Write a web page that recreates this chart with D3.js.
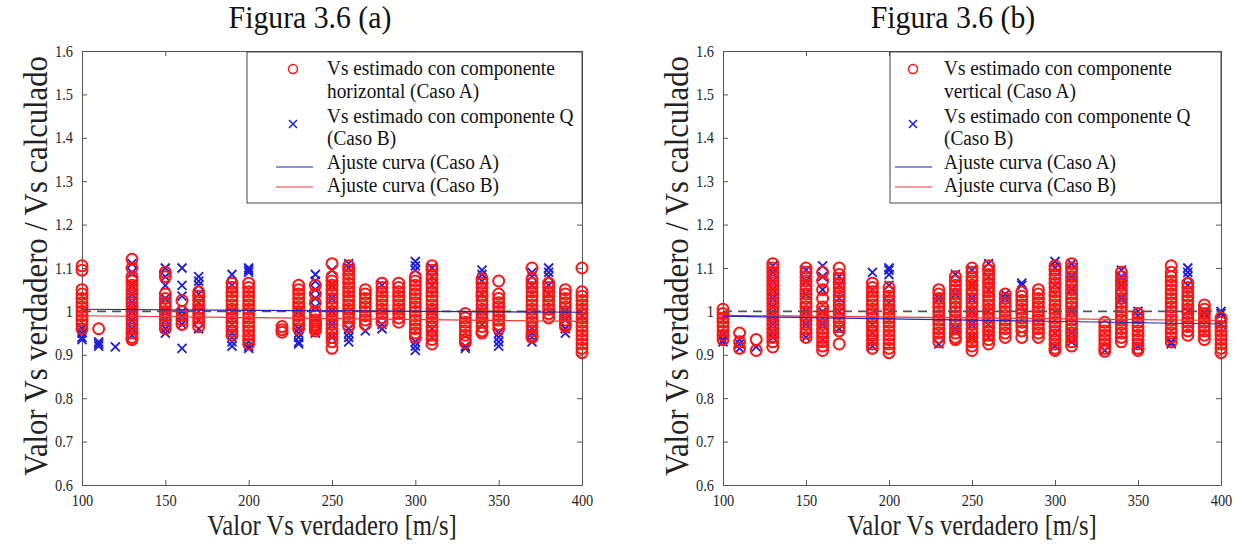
<!DOCTYPE html>
<html>
<head>
<meta charset="utf-8">
<script src="https://cdn.jsdelivr.net/npm/d3@7"></script>
<style>
  body { margin: 0; background: #fff; }
  svg text { font-family: "Liberation Serif", "Times New Roman", serif; }
  .axis path, .axis line { stroke: #555; }
  .axis text { fill: #262626; font-size: 16px; font-family: "Liberation Serif", serif; }
</style>
</head>
<body>
<svg width="1245" height="544"></svg>
<script>
var WIDTH = 1245;
var HEIGHT = 544;

var xTicks = [100, 150, 200, 250, 300, 350, 400];
var yTicks = [0.6, 0.7, 0.8, 0.9, 1.0, 1.1, 1.2, 1.3, 1.4, 1.5, 1.6];

// panel (a): red circles = Caso A, blue crosses = Caso B
var aCasoA = [
    [100, [1.105, 1.095, 1.05, 1.04, 1.03, 1.02, 1.01, 1.0, 0.99, 0.98, 0.97, 0.96]],
    [110, [0.96]],
    [130, [1.12, 1.10, 1.08, 1.07, 1.06, 1.05, 1.04, 1.03, 1.02, 1.01, 1.0, 0.99, 0.98, 0.97, 0.96, 0.95, 0.94, 0.935]],
    [150, [1.09, 1.08, 1.04, 1.03, 1.02, 1.01, 1.0, 0.99, 0.98, 0.97, 0.96]],
    [160, [1.025, 1.0, 0.99, 0.98, 0.97]],
    [170, [1.045, 1.035, 1.025, 1.015, 1.005, 0.995, 0.985, 0.975, 0.965]],
    [190, [1.065, 1.055, 1.045, 1.035, 1.025, 1.015, 1.005, 0.995, 0.985, 0.975, 0.965, 0.955, 0.945]],
    [200, [1.065, 1.055, 1.045, 1.035, 1.025, 1.015, 1.005, 0.995, 0.985, 0.975, 0.965, 0.955, 0.945, 0.935, 0.925]],
    [220, [0.965, 0.958, 0.952]],
    [230, [1.06, 1.05, 1.04, 1.03, 1.02, 1.01, 1.0, 0.99, 0.98, 0.97, 0.96]],
    [240, [1.06, 1.04, 1.02, 1.0, 0.99, 0.98, 0.975, 0.97, 0.965, 0.96, 0.955]],
    [250, [1.11, 1.08, 1.07, 1.06, 1.05, 1.04, 1.03, 1.02, 1.01, 1.0, 0.99, 0.98, 0.97, 0.96, 0.95, 0.94, 0.93, 0.915]],
    [260, [1.105, 1.095, 1.085, 1.075, 1.065, 1.055, 1.045, 1.035, 1.025, 1.015, 1.005, 0.995, 0.985, 0.975, 0.965]],
    [270, [1.05, 1.04, 1.03, 1.02, 1.01, 1.0, 0.99, 0.98, 0.97]],
    [280, [1.065, 1.055, 1.045, 1.035, 1.025, 1.015, 1.005, 0.995, 0.985, 0.975]],
    [290, [1.065, 1.055, 1.045, 1.035, 1.025, 1.015, 1.005, 0.995, 0.985, 0.975]],
    [300, [1.08, 1.07, 1.06, 1.05, 1.04, 1.03, 1.02, 1.01, 1.0, 0.99, 0.98, 0.97, 0.96, 0.95, 0.94]],
    [310, [1.105, 1.095, 1.085, 1.075, 1.065, 1.055, 1.045, 1.035, 1.025, 1.015, 1.005, 0.995, 0.985, 0.975, 0.965, 0.955, 0.945, 0.935, 0.925]],
    [330, [0.995, 0.985, 0.975, 0.965, 0.955, 0.945, 0.935, 0.928]],
    [340, [1.075, 1.065, 1.055, 1.045, 1.035, 1.025, 1.015, 1.005, 0.995, 0.985, 0.975, 0.965, 0.955, 0.95]],
    [350, [1.07, 1.04, 1.03, 1.02, 1.01, 1.0, 0.99, 0.98, 0.97, 0.96]],
    [370, [1.10, 1.075, 1.065, 1.055, 1.045, 1.035, 1.025, 1.015, 1.005, 0.995, 0.985, 0.975, 0.965, 0.955, 0.945, 0.94]],
    [380, [1.065, 1.055, 1.045, 1.035, 1.025, 1.015, 1.005, 0.995, 0.985]],
    [390, [1.05, 1.04, 1.03, 1.02, 1.01, 1.0, 0.99, 0.98, 0.97, 0.965]],
    [400, [1.10, 1.045, 1.035, 1.025, 1.015, 1.005, 0.995, 0.985, 0.975, 0.965, 0.955, 0.945, 0.935, 0.925, 0.915, 0.905]]
];
var aCasoB = [
    [100, [0.96, 0.95, 0.94, 0.935]],
    [110, [0.93, 0.925, 0.92]],
    [120, [0.918]],
    [130, [1.11, 1.09, 1.06, 1.04, 1.02, 1.0, 0.98, 0.96, 0.945]],
    [150, [1.10, 1.08, 1.06, 1.03, 1.0, 0.98, 0.96, 0.95]],
    [160, [1.10, 1.06, 1.035, 1.0, 0.99, 0.97, 0.915]],
    [170, [1.08, 1.07, 1.06, 1.04, 1.02, 1.0, 0.98, 0.96]],
    [190, [1.085, 1.06, 1.0, 0.97, 0.95, 0.94, 0.93, 0.92]],
    [200, [1.10, 1.095, 1.09, 0.93, 0.92, 0.915]],
    [230, [1.0, 0.96, 0.95, 0.94, 0.93, 0.925]],
    [240, [1.085, 1.07, 1.05, 1.03, 1.01, 0.95]],
    [250, [1.095, 1.06, 1.03, 1.0, 0.97, 0.94]],
    [260, [1.11, 1.10, 0.96, 0.95, 0.94, 0.93]],
    [270, [0.955]],
    [280, [1.06, 0.97, 0.96]],
    [300, [1.115, 1.105, 1.095, 0.93, 0.92, 0.91]],
    [310, [1.10, 1.08, 1.06, 1.0, 0.96, 0.94]],
    [330, [0.92, 0.915]],
    [340, [1.095, 1.085, 1.07, 1.04, 1.0, 0.97]],
    [350, [0.95, 0.94, 0.93, 0.92]],
    [370, [1.09, 1.08, 1.06, 0.96, 0.95, 0.94, 0.93]],
    [380, [1.10, 1.09, 1.08, 1.06, 1.04]],
    [390, [1.0, 0.98, 0.96, 0.95]],
    [400, [0.99]]
];
var aFitBlue = [[100, 1.005], [400, 0.998]];
var aFitRed = [[100, 0.990], [400, 0.977]];

// panel (b)
var bCasoA = [
    [100, [1.005, 0.995, 0.985, 0.975, 0.965, 0.955, 0.945, 0.935]],
    [110, [0.95, 0.93, 0.915]],
    [120, [0.935, 0.91]],
    [130, [1.11, 1.10, 1.09, 1.08, 1.07, 1.06, 1.05, 1.04, 1.03, 1.02, 1.01, 1.0, 0.99, 0.98, 0.97, 0.96, 0.95, 0.94, 0.93, 0.918]],
    [150, [1.10, 1.09, 1.08, 1.07, 1.06, 1.05, 1.04, 1.03, 1.02, 1.01, 1.0, 0.99, 0.98, 0.97, 0.96, 0.95, 0.94]],
    [160, [1.09, 1.07, 1.05, 1.03, 1.01, 1.0, 0.99, 0.98, 0.97, 0.96, 0.95, 0.94, 0.93, 0.92, 0.91]],
    [170, [1.10, 1.085, 1.075, 1.065, 1.055, 1.045, 1.035, 1.025, 1.015, 1.005, 0.995, 0.985, 0.975, 0.965, 0.955, 0.925]],
    [190, [1.065, 1.055, 1.045, 1.035, 1.025, 1.015, 1.005, 0.995, 0.985, 0.975, 0.965, 0.955, 0.945, 0.935, 0.925, 0.915]],
    [200, [1.055, 1.045, 1.035, 1.025, 1.015, 1.005, 0.995, 0.985, 0.975, 0.965, 0.955, 0.945, 0.935, 0.925, 0.915, 0.905]],
    [230, [1.05, 1.04, 1.03, 1.02, 1.01, 1.0, 0.99, 0.98, 0.97, 0.96, 0.95, 0.94, 0.93]],
    [240, [1.08, 1.07, 1.06, 1.05, 1.04, 1.03, 1.02, 1.01, 1.0, 0.99, 0.98, 0.97, 0.96, 0.95, 0.94, 0.935]],
    [250, [1.10, 1.09, 1.08, 1.07, 1.06, 1.05, 1.04, 1.03, 1.02, 1.01, 1.0, 0.99, 0.98, 0.97, 0.96, 0.95, 0.94, 0.93, 0.92, 0.91]],
    [260, [1.105, 1.095, 1.085, 1.075, 1.065, 1.055, 1.045, 1.035, 1.025, 1.015, 1.005, 0.995, 0.985, 0.975, 0.965, 0.955, 0.945, 0.935, 0.925]],
    [270, [1.04, 1.03, 1.02, 1.01, 1.0, 0.99, 0.98, 0.97, 0.96, 0.95, 0.94]],
    [280, [1.045, 1.035, 1.025, 1.015, 1.005, 0.995, 0.985, 0.975, 0.965, 0.955, 0.94]],
    [290, [1.05, 1.04, 1.03, 1.02, 1.01, 1.0, 0.99, 0.98, 0.97, 0.96, 0.95, 0.94]],
    [300, [1.105, 1.095, 1.085, 1.075, 1.065, 1.055, 1.045, 1.035, 1.025, 1.015, 1.005, 0.995, 0.985, 0.975, 0.965, 0.955, 0.945, 0.935, 0.925, 0.915, 0.91]],
    [310, [1.11, 1.10, 1.09, 1.08, 1.07, 1.06, 1.05, 1.04, 1.03, 1.02, 1.01, 1.0, 0.99, 0.98, 0.97, 0.96, 0.95, 0.94, 0.93, 0.92]],
    [330, [0.975, 0.965, 0.955, 0.945, 0.935, 0.925, 0.915, 0.908]],
    [340, [1.09, 1.08, 1.07, 1.06, 1.05, 1.04, 1.03, 1.02, 1.01, 1.0, 0.99, 0.98, 0.97, 0.96, 0.95, 0.94, 0.93]],
    [350, [0.995, 0.985, 0.975, 0.965, 0.955, 0.945, 0.935, 0.925, 0.915, 0.91]],
    [370, [1.105, 1.09, 1.08, 1.07, 1.06, 1.05, 1.04, 1.03, 1.02, 1.01, 1.0, 0.99, 0.98, 0.97, 0.96, 0.95, 0.94, 0.93]],
    [380, [1.065, 1.055, 1.045, 1.035, 1.025, 1.015, 1.005, 0.995, 0.985, 0.975, 0.965, 0.955, 0.945]],
    [390, [1.015, 1.005, 0.995, 0.985, 0.975, 0.965, 0.955, 0.945, 0.935]],
    [400, [0.985, 0.975, 0.965, 0.955, 0.945, 0.935, 0.925, 0.915, 0.905]]
];
var bCasoB = [
    [100, [0.945, 0.935, 0.93]],
    [110, [0.935, 0.925, 0.915]],
    [120, [0.918]],
    [130, [1.105, 1.09, 1.07, 1.05, 1.03, 1.01, 0.99, 0.97, 0.95, 0.94]],
    [150, [1.095, 1.07, 1.04, 1.0, 0.97, 0.94]],
    [160, [1.105, 1.08, 1.05, 1.0, 0.97, 0.935]],
    [170, [1.08, 1.06, 1.03, 1.0, 0.96]],
    [190, [1.09, 1.05, 0.97, 0.95, 0.93, 0.92]],
    [200, [1.10, 1.095, 1.085, 1.06, 1.02]],
    [230, [1.03, 0.925]],
    [240, [1.085, 1.04, 0.96]],
    [250, [1.095, 1.06, 1.03, 1.0, 0.97, 0.94]],
    [260, [1.11, 1.08, 1.05, 1.0, 0.97, 0.94]],
    [270, [1.04, 1.03]],
    [280, [1.065, 1.06]],
    [300, [1.115, 1.10, 1.06, 0.95, 0.92]],
    [310, [1.11, 1.08, 1.05, 1.0, 0.95, 0.93]],
    [330, [0.91]],
    [340, [1.095, 1.08, 1.06, 1.03]],
    [350, [1.0, 0.99, 0.92]],
    [370, [0.93, 0.925]],
    [380, [1.10, 1.09, 1.08, 1.06, 1.0]],
    [390, [1.0, 0.995]],
    [400, [1.0, 0.995, 0.97]]
];
var bFitBlue = [[100, 0.989], [400, 0.971]];
var bFitRed = [[100, 0.991], [400, 0.979]];

var RED = "#ff1414";
var BLUE = "#1c1cdc";

var svg = d3.select("svg");

// flatten [x, [y...]] columns into points
function points(cols) {
    var out = [];
    cols.forEach(function(c) {
        c[1].forEach(function(v) { out.push({x: c[0], y: v}); });
    });
    return out;
}

// the source uses a narrow Times, squeeze glyphs horizontally
function condense(sel, k) {
    sel.each(function() {
        var w = this.getComputedTextLength();
        d3.select(this).attr("textLength", w * k).attr("lengthAdjust", "spacingAndGlyphs");
    });
}

function drawPanel(p) {
    var x = d3.scaleLinear().domain([100, 400]).range([p.left, p.right]);
    var y = d3.scaleLinear().domain([0.6, 1.6]).range([485, 51]);
    var g = svg.append("g");
    var fmt = function(d) { return String(+d.toFixed(1)); };

    g.append("g").attr("class", "axis")
        .attr("transform", "translate(0,485)")
        .call(d3.axisBottom(x).tickValues(xTicks).tickSizeInner(-5).tickSizeOuter(0).tickPadding(10));
    g.append("g").attr("class", "axis")
        .attr("transform", "translate(" + p.left + ",0)")
        .call(d3.axisLeft(y).tickValues(yTicks).tickFormat(fmt).tickSizeInner(-5).tickSizeOuter(0).tickPadding(9));
    g.append("g").attr("class", "axis")
        .attr("transform", "translate(0,51)")
        .call(d3.axisTop(x).tickValues(xTicks).tickFormat("").tickSizeInner(-5).tickSizeOuter(0));
    g.append("g").attr("class", "axis")
        .attr("transform", "translate(" + p.right + ",0)")
        .call(d3.axisRight(y).tickValues(yTicks).tickFormat("").tickSizeInner(-5).tickSizeOuter(0));
    g.selectAll(".axis text").attr("font-size", 17).call(condense, 0.9);

    // blue crosses
    g.append("g").selectAll("path")
        .data(points(p.casoB))
        .enter().append("path")
        .attr("d", "M-4.5,-4.5L4.5,4.5M-4.5,4.5L4.5,-4.5")
        .attr("transform", function(d) { return "translate(" + x(d.x) + "," + y(d.y) + ")"; })
        .attr("stroke", BLUE).attr("stroke-width", 1.8).attr("fill", "none");

    // red circles
    g.append("g").selectAll("circle")
        .data(points(p.casoA))
        .enter().append("circle")
        .attr("cx", function(d) { return x(d.x); })
        .attr("cy", function(d) { return y(d.y); })
        .attr("r", 5.5)
        .attr("fill", "none").attr("stroke", RED).attr("stroke-width", 2);

    var line = d3.line().x(function(d) { return x(d[0]); }).y(function(d) { return y(d[1]); });
    g.append("path").datum([[100, 1], [400, 1]]).attr("d", line)
        .attr("stroke", "#555").attr("stroke-width", 1.6).attr("stroke-dasharray", "9,6").attr("fill", "none");
    g.append("path").datum(p.fitRed).attr("d", line)
        .attr("stroke", "#e8383a").attr("stroke-width", 1.2).attr("fill", "none");
    g.append("path").datum(p.fitBlue).attr("d", line)
        .attr("stroke", "#2424b8").attr("stroke-width", 1.2).attr("fill", "none");

    // titles and axis labels
    g.append("text").attr("x", p.titleX).attr("y", 28).attr("text-anchor", "middle")
        .attr("font-size", 31).attr("fill", "#111").text(p.title).call(condense, 0.96);
    g.append("text").attr("x", (p.left + p.right) / 2).attr("y", 535).attr("text-anchor", "middle")
        .attr("font-size", 29).attr("fill", "#222").text("Valor Vs verdadero [m/s]").call(condense, 0.85);
    g.append("text").attr("transform", "translate(" + (p.left - 35) + ",266) rotate(-90)")
        .attr("text-anchor", "middle").attr("font-size", 34).attr("fill", "#222")
        .text("Valor Vs verdadero / Vs calculado").call(condense, 0.9);

    // legend
    var L = g.append("g");
    L.append("rect").attr("x", p.legX).attr("y", 52).attr("width", p.right - p.legX).attr("height", 151)
        .attr("fill", "#fff").attr("stroke", "#444").attr("stroke-width", 1);
    L.append("circle").attr("cx", p.legX + p.mk).attr("cy", 69).attr("r", 4.5)
        .attr("fill", "none").attr("stroke", RED).attr("stroke-width", 1.5);
    L.append("path").attr("d", "M-4,-4L4,4M-4,4L4,-4")
        .attr("transform", "translate(" + (p.legX + p.mk) + ",124)")
        .attr("stroke", BLUE).attr("stroke-width", 1.5);
    L.append("line").attr("x1", p.legX + p.l0).attr("x2", p.legX + p.l1).attr("y1", 167).attr("y2", 167)
        .attr("stroke", "#2424b8").attr("stroke-width", 1.1);
    L.append("line").attr("x1", p.legX + p.l0).attr("x2", p.legX + p.l1).attr("y1", 187).attr("y2", 187)
        .attr("stroke", "#e8383a").attr("stroke-width", 1.1);
    var lines = ["Vs estimado con componente", p.comp + " (Caso A)", "Vs estimado con componente Q",
        "(Caso B)", "Ajuste curva (Caso A)", "Ajuste curva (Caso B)"];
    var ys = [75, 98, 123, 145, 169, 192];
    L.selectAll("text.leg").data(lines).enter().append("text")
        .attr("class", "leg")
        .attr("x", p.legX + p.tx).attr("y", function(d, i) { return ys[i]; })
        .attr("font-size", 20).attr("fill", "#111").text(function(d) { return d; })
        .call(condense, 0.965);
}

drawPanel({left: 82, right: 582, title: "Figura 3.6 (a)", titleX: 310, casoA: aCasoA, casoB: aCasoB,
    fitBlue: aFitBlue, fitRed: aFitRed, legX: 247, mk: 46, l0: 29, l1: 66, tx: 80, comp: "horizontal"});
drawPanel({left: 723, right: 1221, title: "Figura 3.6 (b)", titleX: 953, casoA: bCasoA, casoB: bCasoB,
    fitBlue: bFitBlue, fitRed: bFitRed, legX: 890, mk: 23, l0: 5, l1: 42, tx: 54, comp: "vertical"});
</script>
</body>
</html>
